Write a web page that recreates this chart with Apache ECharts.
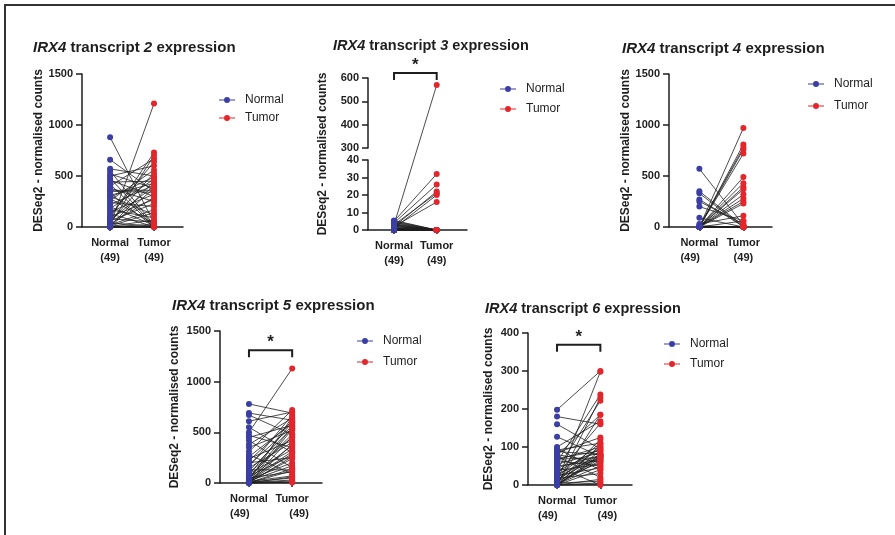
<!DOCTYPE html>
<html>
<head>
<meta charset="utf-8">
<script src="https://cdn.jsdelivr.net/npm/echarts@6/dist/echarts.min.js"></script>
<style>
  html, body { margin: 0; padding: 0; background: #fff; }
  #chart { width: 895px; height: 535px; }
</style>
</head>
<body>
<div id="chart"></div>
<script>
// groups and sample sizes
const groups = ['Normal', 'Tumor'];
const groupN = [49, 49];
const transcripts = ['2', '3', '4', '5', '6'];

// paired DESeq2 counts, same patient at the same index
const normal2 = [880, 660, 570, 550, 520, 500, 480, 460, 440, 420, 400, 380, 360, 350, 330, 310, 300, 290, 280, 260, 240, 220, 200, 180, 170, 150, 130, 110, 100, 90, 80, 70, 60, 50, 40, 30, 25, 20, 15, 10, 8, 5, 5, 3, 2, 2, 1, 1, 0];
const tumor2 = [40, 350, 500, 20, 380, 600, 10, 300, 450, 5, 670, 250, 360, 340, 2, 430, 120, 490, 30, 560, 200, 410, 15, 470, 90, 320, 3, 640, 270, 730, 50, 400, 230, 530, 8, 290, 700, 170, 1210, 140, 450, 25, 70, 380, 1, 4, 0, 2, 1];

const normal3 = [3, 5, 4, 2, 3, 1, 2, 5.5, 5, 4.5, 4, 3.5, 3, 2.5, 2, 1.5, 1, 0.5, 0, 0, 0, 0.5, 1, 0, 0, 0, 2, 0, 0, 1, 0, 0, 0, 0, 0, 3, 0, 0, 0, 0, 1, 0, 0, 0, 0, 0, 0, 0, 0];
const tumor3 = [570, 32, 26, 22, 21, 20, 16, 0, 0, 0, 0, 0, 0, 0, 0, 0, 0, 0, 0, 0, 0, 0, 0, 0, 0, 0, 0, 0, 0, 0, 0, 0, 0, 0, 0, 0, 0, 0, 0, 0, 0, 0, 0, 0, 0, 0, 0, 0, 0];

const normal4 = [570, 350, 330, 270, 250, 200, 90, 30, 10, 0, 0, 5, 0, 2, 0, 3, 0, 1, 0, 0, 4, 0, 0, 2, 0, 1, 0, 3, 0, 0, 1, 0, 0, 2, 0, 1, 0, 0, 0, 1, 0, 0, 2, 0, 0, 1, 0, 0, 0];
const tumor4 = [20, 10, 0, 5, 30, 60, 0, 110, 0, 970, 810, 780, 760, 720, 490, 430, 390, 370, 320, 280, 250, 230, 60, 0, 1, 0, 3, 0, 0, 2, 0, 0, 1, 0, 0, 5, 0, 0, 2, 0, 0, 1, 0, 0, 3, 0, 0, 1, 0];

const normal5 = [780, 690, 670, 610, 550, 500, 470, 450, 420, 380, 350, 310, 280, 260, 240, 220, 200, 180, 160, 150, 130, 120, 100, 90, 80, 70, 60, 50, 45, 40, 35, 30, 25, 20, 18, 15, 12, 10, 8, 6, 5, 4, 3, 2, 2, 1, 1, 0, 0];
const tumor5 = [690, 620, 480, 700, 300, 1130, 350, 570, 150, 640, 520, 720, 90, 590, 420, 610, 250, 560, 670, 400, 130, 540, 450, 330, 600, 270, 480, 110, 370, 550, 200, 310, 650, 170, 290, 70, 530, 240, 50, 380, 140, 30, 260, 10, 120, 20, 460, 5, 60];

const normal6 = [198, 180, 160, 127, 100, 95, 92, 88, 85, 80, 78, 75, 70, 68, 66, 64, 60, 55, 50, 48, 45, 40, 38, 35, 30, 28, 25, 22, 20, 18, 15, 12, 10, 8, 6, 5, 4, 3, 2, 2, 1, 1, 0, 0, 0, 0, 0, 0, 0];
const tumor6 = [300, 160, 95, 75, 168, 40, 110, 80, 125, 60, 185, 20, 90, 72, 100, 50, 238, 85, 65, 0, 78, 222, 55, 95, 70, 162, 45, 110, 80, 30, 75, 100, 60, 298, 120, 10, 90, 70, 185, 50, 5, 65, 230, 80, 105, 40, 15, 75, 2];

// height of the significance bracket (data units), null = no bracket
const sigLevel = [null, 621, null, 1310, 369];

const ink = '#1e1e1e';
const font = "'Liberation Sans', Arial, sans-serif";
const blue = '#3b3fa4';
const red = '#e2262b';
const legendIcon = 'path://M0,3H5V4H0Z M11,3H16V4H11Z M5,3.5A3,3 0 1 1 11,3.5A3,3 0 1 1 5,3.5Z';

const chart = echarts.init(document.getElementById('chart'), null, { renderer: 'canvas' });

// layout of each small plot; segs are stacked y ranges (top to bottom) for a broken axis
const panels = [
  { normal: normal2, tumor: tumor2, sig: sigLevel[0], tx: transcripts[0],
    titlePos: { left: 33, top: 40 }, titleSize: 15, legendPos: { left: 219, top: 94 }, legendGap: 6,
    left: 82, width: 101, xMin: -0.64, xMax: 1.66, nameGap: 37, align: ['c', 'c'],
    segs: [{ top: 74, height: 153, min: 0, max: 1500, interval: 500 }] },
  { normal: normal3, tumor: tumor3, sig: sigLevel[1], tx: transcripts[1],
    titlePos: { left: 333, top: 38 }, titleSize: 14.5, legendPos: { left: 500, top: 83 }, legendGap: 8,
    left: 368, width: 99, xMin: -0.61, xMax: 1.71, nameGap: 39, align: ['c', 'c'],
    segs: [{ top: 78, height: 70, min: 300, max: 600, interval: 100 },
           { top: 160, height: 70, min: 0, max: 40, interval: 10 }] },
  { normal: normal4, tumor: tumor4, sig: sigLevel[2], tx: transcripts[2],
    titlePos: { left: 622, top: 41 }, titleSize: 15, legendPos: { left: 808, top: 78 }, legendGap: 10,
    left: 669, width: 103, xMin: -0.69, xMax: 1.65, nameGap: 37, align: ['l', 'c'],
    segs: [{ top: 74, height: 153, min: 0, max: 1500, interval: 500 }] },
  { normal: normal5, tumor: tumor5, sig: sigLevel[3], tx: transcripts[3],
    titlePos: { left: 172, top: 298 }, titleSize: 15, legendPos: { left: 357, top: 335 }, legendGap: 9,
    left: 220, width: 102, xMin: -0.67, xMax: 1.69, nameGap: 39, align: ['l', 'r'],
    segs: [{ top: 331, height: 152, min: 0, max: 1500, interval: 500 }] },
  { normal: normal6, tumor: tumor6, sig: sigLevel[4], tx: transcripts[4],
    titlePos: { left: 485, top: 301 }, titleSize: 14.5, legendPos: { left: 664, top: 338 }, legendGap: 8,
    left: 528, width: 104, xMin: -0.67, xMax: 1.73, nameGap: 33, align: ['l', 'r'],
    segs: [{ top: 333, height: 152, min: 0, max: 400, interval: 100 }] }
];

const axisLineStyle = { color: ink, width: 1.5 };
const yName = 'DESeq2 - normalised counts';
const nameStyle = { fontSize: 12, fontWeight: 'bold', color: ink, fontFamily: font };
const xLab = { fontSize: 11, fontWeight: 'bold', color: ink, fontFamily: font, lineHeight: 15 };

const option = {
  animation: false,
  textStyle: { fontFamily: font },
  title: [], legend: [], grid: [], xAxis: [], yAxis: [], series: [],
  graphic: [
    { type: 'line', shape: { x1: 4, y1: 5, x2: 895, y2: 5 }, style: { stroke: '#333', lineWidth: 2 } },
    { type: 'line', shape: { x1: 5, y1: 4, x2: 5, y2: 535 }, style: { stroke: '#333', lineWidth: 2 } }
  ]
};

function pushGrid(g, x, y) {
  const gi = option.grid.length;
  option.grid.push(Object.assign({ outerBoundsMode: 'none' }, g));
  option.xAxis.push(Object.assign({ gridIndex: gi }, x));
  option.yAxis.push(Object.assign({ gridIndex: gi }, y));
  return gi;
}

panels.forEach(p => {
  option.title.push({
    text: `{i|IRX4} transcript {i|${p.tx}} expression`,
    left: p.titlePos.left, top: p.titlePos.top, padding: 0,
    textStyle: {
      fontSize: p.titleSize, fontWeight: 'bold', color: ink, fontFamily: font,
      rich: { i: { fontSize: p.titleSize, fontWeight: 'bold', fontStyle: 'italic', color: ink, fontFamily: font } }
    }
  });
  option.legend.push({
    orient: 'vertical', left: p.legendPos.left, top: p.legendPos.top, padding: 0,
    data: groups, icon: legendIcon, itemWidth: 16, itemHeight: 6, itemGap: p.legendGap,
    selectedMode: false,
    textStyle: { fontSize: 12, color: ink, fontFamily: font, padding: [0, 0, 0, 5] }
  });

  const single = p.segs.length === 1;
  const idx = p.segs.map((s, j) => {
    const last = j === p.segs.length - 1;
    return pushGrid(
      { left: p.left, width: p.width, top: s.top, height: s.height },
      {
        type: 'value', min: p.xMin, max: p.xMax, show: last,
        axisLine: { onZero: false, lineStyle: axisLineStyle },
        axisTick: { customValues: [0, 1], length: 4, lineStyle: axisLineStyle },
        axisLabel: {
          customValues: [0, 1], margin: 8,
          formatter: v => {
            const i = Math.round(v);
            return `{g|${groups[i]}}\n{${p.align[i]}|(${groupN[i]})}`;
          },
          rich: {
            g: xLab,
            l: Object.assign({ align: 'left' }, xLab),
            c: Object.assign({ align: 'center' }, xLab),
            r: Object.assign({ align: 'right' }, xLab)
          }
        },
        splitLine: { show: false }
      },
      {
        type: 'value', min: s.min, max: s.max, interval: s.interval,
        axisLine: { show: true, onZero: false, lineStyle: axisLineStyle },
        axisTick: { show: true, length: 6, lineStyle: axisLineStyle },
        axisLabel: { margin: 9, fontSize: 11, fontWeight: 'bold', color: ink, fontFamily: font,
                     formatter: v => String(v) },
        splitLine: { show: false },
        name: single ? yName : '', nameLocation: 'middle', nameGap: p.nameGap,
        nameMoveOverlap: false, nameTextStyle: nameStyle
      }
    );
  });

  // broken axis: one name spanning both pieces
  if (!single) {
    const top = p.segs[0].top;
    const last = p.segs[p.segs.length - 1];
    pushGrid(
      { left: p.left, width: p.width, top: top, height: last.top + last.height - top },
      { type: 'value', show: false },
      {
        type: 'value', min: 0, max: 1,
        axisLine: { show: false }, axisTick: { show: false }, axisLabel: { show: false },
        splitLine: { show: false },
        name: yName, nameLocation: 'middle', nameGap: p.nameGap,
        nameMoveOverlap: false, nameTextStyle: nameStyle
      }
    );
  }

  const bottom = idx[idx.length - 1];
  const upper = single ? null : idx[0];
  const lowMax = p.segs[p.segs.length - 1].max;

  // connecting lines Normal -> Tumor
  option.series.push({
    type: 'custom', xAxisIndex: bottom, yAxisIndex: bottom, silent: true, z: 2,
    data: p.normal.map((v, i) => [0, v, p.tumor[i]]),
    renderItem: (params, api) => {
      const at = (x, v) => (upper != null && v > lowMax)
        ? chart.convertToPixel({ xAxisIndex: upper, yAxisIndex: upper }, [x, v])
        : api.coord([x, v]);
      const a = at(0, api.value(1));
      const b = at(1, api.value(2));
      return {
        type: 'line',
        shape: { x1: a[0], y1: a[1], x2: b[0], y2: b[1] },
        style: { stroke: ink, lineWidth: 0.8, fill: 'none' }
      };
    }
  });

  idx.forEach(gi => {
    option.series.push({
      name: groups[0], type: 'scatter', xAxisIndex: gi, yAxisIndex: gi, z: 3,
      symbolSize: 6, itemStyle: { color: blue, opacity: 1 }, silent: true,
      data: p.normal.map(v => [0, v])
    });
    option.series.push({
      name: groups[1], type: 'scatter', xAxisIndex: gi, yAxisIndex: gi, z: 3,
      symbolSize: 6, itemStyle: { color: red, opacity: 1 }, silent: true,
      data: p.tumor.map(v => [1, v])
    });
  });

  if (p.sig != null) {
    option.series.push({
      type: 'custom', xAxisIndex: idx[0], yAxisIndex: idx[0], silent: true, z: 4,
      data: [[0, p.sig]],
      renderItem: (params, api) => {
        const l = api.coord([0, api.value(1)]);
        const r = api.coord([1, api.value(1)]);
        return {
          type: 'group',
          children: [
            { type: 'polyline',
              shape: { points: [[l[0], l[1] + 7], [l[0], l[1]], [r[0], r[1]], [r[0], r[1] + 7]] },
              style: { stroke: ink, lineWidth: 2, fill: 'none' } },
            { type: 'text',
              style: { text: '*', x: (l[0] + r[0]) / 2, y: l[1] + 1, align: 'center', verticalAlign: 'bottom',
                       font: 'bold 17px ' + font, fill: ink } }
          ]
        };
      }
    });
  }
});

chart.setOption(option);
</script>
</body>
</html>
